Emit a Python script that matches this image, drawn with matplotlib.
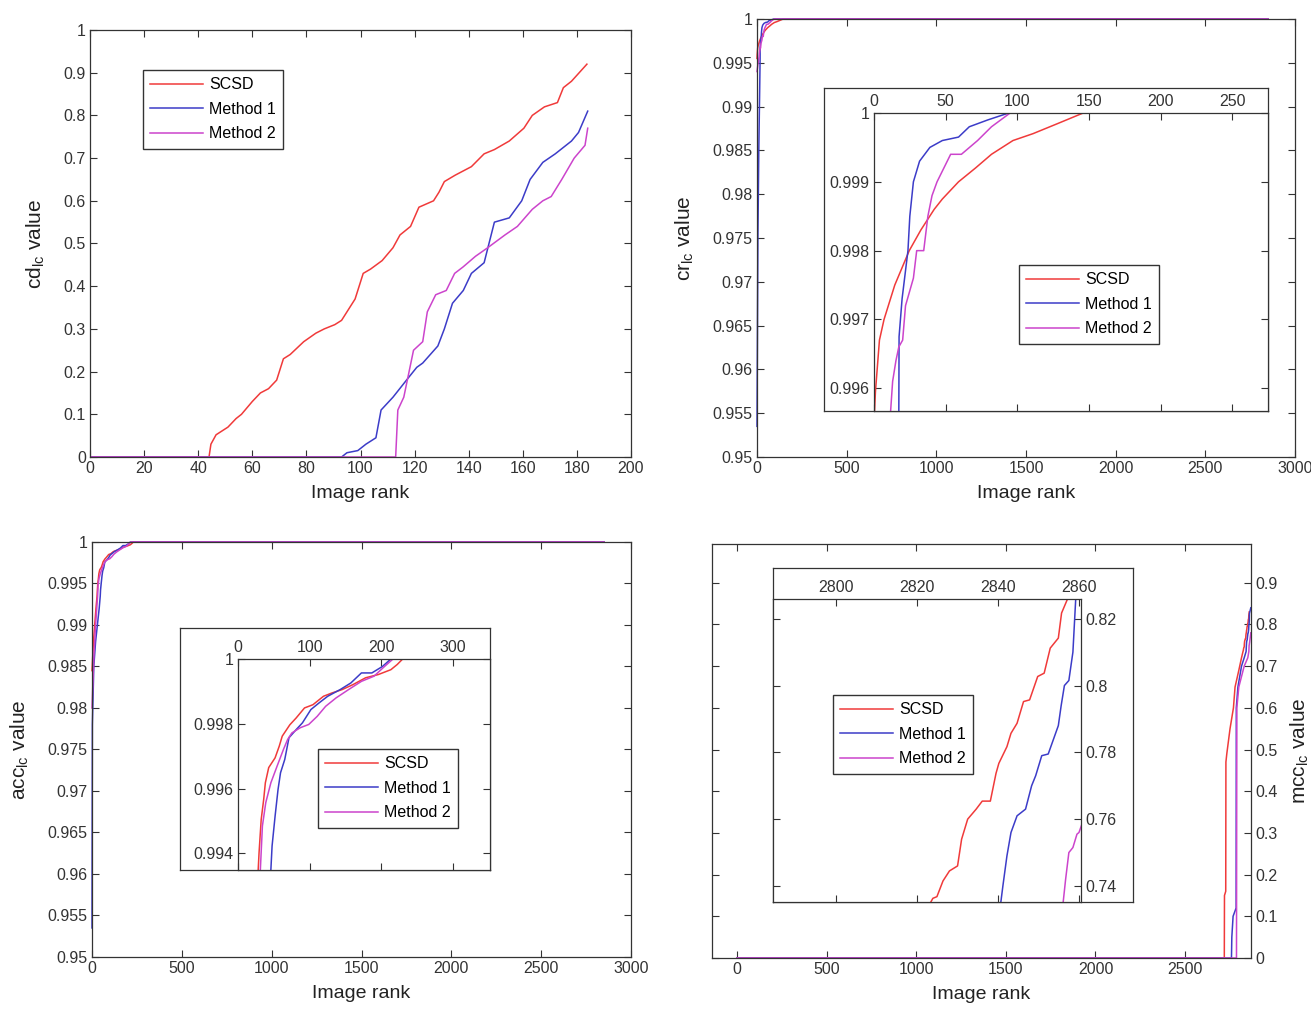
import matplotlib.pyplot as plt
from matplotlib.ticker import MultipleLocator, FuncFormatter

plt.rcParams['font.family'] = ['Liberation Sans', 'DejaVu Sans']
plt.rcParams['mathtext.default'] = 'regular'

W, H = 1311, 1013
names = ["SCSD", "Method 1", "Method 2"]
colors = ["#f03a3a", "#3c3cc8", "#cc44cc"]

# cd_lc (top left)
cd_x = [
    [0, 44, 44.7, 46.6, 51, 54, 56, 60, 63, 66, 69, 71.5, 74, 79, 83.5, 86.6, 90.5, 93, 96, 98, 101,
     103.7, 108, 112, 114.6, 118.5, 121.6, 127, 129, 131, 135, 141, 145.7, 149.5, 155, 160.4, 163.5,
     168, 172.8, 175, 178, 183.7],
    [0, 93, 95, 99, 102, 105.7, 107.6, 112, 117, 120.8, 123, 128.6, 131, 134, 138, 141, 145.7, 149.5,
     155, 159.6, 162.7, 167.4, 172, 178, 180.6, 184],
    [0, 113, 113.8, 116, 119.6, 123, 124.7, 127.8, 131.7, 134.8, 137.9, 142.5, 147, 153.4, 158, 163.5,
     167.4, 170.5, 174.4, 179, 183, 184],
]
cd_y = [
    [0, 0, 0.03, 0.052, 0.07, 0.09, 0.1, 0.13, 0.15, 0.16, 0.18, 0.23, 0.24, 0.27, 0.29, 0.3, 0.31, 0.32,
     0.35, 0.37, 0.43, 0.44, 0.46, 0.49, 0.52, 0.54, 0.585, 0.6, 0.62, 0.645, 0.66, 0.68, 0.71, 0.72,
     0.74, 0.77, 0.8, 0.82, 0.83, 0.865, 0.88, 0.92],
    [0, 0, 0.01, 0.015, 0.03, 0.045, 0.11, 0.14, 0.18, 0.21, 0.22, 0.26, 0.3, 0.36, 0.39, 0.43, 0.455,
     0.55, 0.56, 0.6, 0.65, 0.69, 0.71, 0.74, 0.76, 0.81],
    [0, 0, 0.11, 0.14, 0.25, 0.27, 0.34, 0.38, 0.39, 0.43, 0.445, 0.47, 0.49, 0.52, 0.54, 0.58, 0.6,
     0.61, 0.65, 0.7, 0.73, 0.77],
]

# cr_lc (top right)
cr_x = [
    [0, 1, 3.8, 7, 14.5, 24.6, 32.7, 42, 47.7, 59, 70.8, 82, 97, 111, 128.6, 146, 2850],
    [0, 5, 10, 15, 17.3, 17.5, 19.6, 23.7, 25, 27.5, 31.8, 39, 47.7, 59, 66.5, 79.5, 94, 2850],
    [0, 5, 11.6, 13, 15.3, 17.3, 20, 22, 27.5, 29.8, 34.7, 37.6, 40.5, 44, 53.5, 61, 72.3, 82, 95, 2850],
]
cr_y = [
    [0.9955, 0.99595, 0.9967, 0.997, 0.9975, 0.998, 0.9983, 0.9986, 0.99875, 0.999, 0.9992, 0.9994,
     0.9996, 0.9997, 0.99985, 1, 1],
    [0.9535, 0.975, 0.985, 0.992, 0.9955, 0.99675, 0.9973, 0.998, 0.9985, 0.999, 0.9993, 0.9995,
     0.9996, 0.99965, 0.9998, 0.9999, 1, 1],
    [0.994, 0.9948, 0.99567, 0.9961, 0.9964, 0.9966, 0.9967, 0.9972, 0.9976, 0.998, 0.998, 0.9985,
     0.9988, 0.999, 0.9994, 0.9994, 0.9996, 0.9998, 1, 1],
]

# acc_lc (bottom left)
acc_x = [
    [0, 8, 15, 22, 28.2, 29.4, 32.4, 35.9, 38.2, 42.9, 51.8, 57.6, 61.8, 72.4, 81.2, 92.9, 104.7, 119.4,
     131, 145.9, 160.6, 178.2, 195.9, 213.5, 222.4, 230, 2850],
    [0, 2, 10, 20, 30, 40, 45.9, 47.6, 51.8, 55.9, 59.4, 65.3, 71.2, 81.2, 90, 101.8, 113.5, 125.3, 143,
     157.6, 172.4, 187, 201.8, 213.5, 2850],
    [0, 10, 20, 28, 31.2, 34.1, 38.8, 45.9, 54.7, 63.5, 69.4, 75.3, 87, 98.8, 110.6, 122.4, 137, 154.7,
     172.4, 190, 204.7, 216.5, 2850],
]
acc_y = [
    [0.9845, 0.988, 0.990, 0.992, 0.99349, 0.99402, 0.99505, 0.99567, 0.99618, 0.99665, 0.99695,
     0.99731, 0.99762, 0.99797, 0.99818, 0.99849, 0.99859, 0.99885, 0.99895, 0.99906, 0.99921,
     0.99942, 0.99952, 0.99967, 0.99983, 1, 1],
    [0.9535, 0.978, 0.985, 0.988, 0.99, 0.992, 0.99349, 0.99423, 0.99515, 0.99597, 0.99649, 0.9969,
     0.99757, 0.99782, 0.99803, 0.99844, 0.99865, 0.99885, 0.99906, 0.99926, 0.99957, 0.99957,
     0.99977, 1, 1],
    [0.98, 0.986, 0.99, 0.9925, 0.99349, 0.99485, 0.99557, 0.99618, 0.9967, 0.99721, 0.99752, 0.99772,
     0.99788, 0.99798, 0.99823, 0.99854, 0.9988, 0.99906, 0.99931, 0.99947, 0.99977, 1, 1],
]

# mcc_lc (bottom right)
mcc_x = [
    [0, 2719, 2720, 2727, 2728, 2733, 2751, 2770, 2779, 2800, 2815, 2823.4, 2823.9, 2824.9, 2826.4,
     2828, 2830, 2831, 2832.5, 2834.6, 2836.1, 2838.1, 2839.5, 2840.2, 2842.2, 2843.2, 2844.7, 2846.3,
     2847.8, 2849.8, 2851.4, 2852.9, 2854.9, 2855.7, 2857.2, 2858],
    [0, 2759, 2761, 2768, 2785, 2786, 2795, 2815, 2830, 2840.7, 2841.2, 2842.2, 2843.2, 2844.7, 2846.8,
     2848.3, 2849.3, 2850.8, 2852.4, 2854.9, 2855.6, 2856.4, 2857.5, 2858.5, 2859.2, 2867],
    [0, 2787, 2788, 2789, 2800, 2830, 2850, 2856.1, 2856.7, 2857.5, 2858.5, 2859.5, 2860, 2867],
]
mcc_y = [
    [0, 0, 0.15, 0.16, 0.47, 0.49, 0.55, 0.6, 0.65, 0.69, 0.72, 0.7352, 0.7363, 0.7368, 0.7415, 0.7445,
     0.746, 0.754, 0.76, 0.763, 0.7654, 0.7654, 0.7737, 0.7767, 0.7817, 0.7857, 0.7887, 0.7952, 0.7957,
     0.8027, 0.8037, 0.8112, 0.8142, 0.8217, 0.826, 0.83],
    [0, 0, 0.05, 0.1, 0.12, 0.6, 0.65, 0.7, 0.72, 0.7352, 0.74, 0.749, 0.756, 0.761, 0.763, 0.77, 0.773,
     0.779, 0.7795, 0.788, 0.794, 0.80, 0.8015, 0.81, 0.826, 0.84],
    [0, 0, 0.3, 0.6, 0.65, 0.7, 0.72, 0.7352, 0.742, 0.75, 0.7515, 0.7555, 0.756, 0.78],
]


def box(x0, y0, x1, y1):
    return [x0 / W, 1 - y1 / H, (x1 - x0) / W, (y1 - y0) / H]


fmt = FuncFormatter(lambda v, p: "%g" % round(v, 6))


def style(ax, size=11.5):
    ax.tick_params(direction="in", top=True, right=True, length=5, width=0.8,
                   labelsize=size, colors="#333333", pad=3)
    for s in ax.spines.values():
        s.set_color("#333333")
        s.set_linewidth(0.9)
    ax.xaxis.set_major_formatter(fmt)
    ax.yaxis.set_major_formatter(fmt)


def labels(ax, ylab):
    ax.set_xlabel("Image rank", fontsize=14, color="#222222", labelpad=6)
    ax.set_ylabel(ylab, fontsize=15, color="#222222", labelpad=12)


def draw(ax, xs, ys, clip=True):
    for x, y, c, n in zip(xs, ys, colors, names):
        ax.plot(x, y, color=c, lw=1.1, label=n, clip_on=clip)


def legend(ax, x0, y0):
    ax.legend(loc="upper left", bbox_to_anchor=(x0 / W, 1 - y0 / H), bbox_transform=fig.transFigure,
              borderaxespad=0, fancybox=False, framealpha=1, edgecolor="#333333", fontsize=11.5,
              handlelength=3.3, labelspacing=0.6, borderpad=0.45, handletextpad=0.4)


def frame(x0, y0, x1, y1):
    a = fig.add_axes(box(x0, y0, x1, y1))
    a.set_xticks([])
    a.set_yticks([])
    for s in a.spines.values():
        s.set_color("#333333")
        s.set_linewidth(0.9)
    return a


fig = plt.figure(figsize=(W / 100, H / 100), dpi=100)

# top left
ax1 = fig.add_axes(box(90, 30, 631, 457))
draw(ax1, cd_x, cd_y)
ax1.set_xlim(0, 200)
ax1.set_ylim(0, 1)
ax1.xaxis.set_major_locator(MultipleLocator(20))
ax1.yaxis.set_major_locator(MultipleLocator(0.1))
style(ax1)
labels(ax1, "cd$_{lc}$ value")
legend(ax1, 143, 70)

# top right
ax2 = fig.add_axes(box(757, 19, 1295, 457))
draw(ax2, cr_x, cr_y, clip=False)
ax2.set_xlim(0, 3000)
ax2.set_ylim(0.95, 1)
ax2.xaxis.set_major_locator(MultipleLocator(500))
ax2.yaxis.set_major_locator(MultipleLocator(0.005))
style(ax2)
labels(ax2, "cr$_{lc}$ value")

frame(824, 88, 1268, 411)
in2 = fig.add_axes(box(874, 113, 1268, 411))
draw(in2, cr_x, cr_y)
in2.set_xlim(0, 275)
in2.set_ylim(0.99567, 1)
in2.xaxis.set_major_locator(MultipleLocator(50))
in2.yaxis.set_major_locator(MultipleLocator(0.001))
style(in2)
in2.tick_params(labeltop=True, labelbottom=False)
legend(in2, 1019, 265)

# bottom left
ax3 = fig.add_axes(box(92, 542, 631, 957))
draw(ax3, acc_x, acc_y, clip=False)
ax3.set_xlim(0, 3000)
ax3.set_ylim(0.95, 1)
ax3.xaxis.set_major_locator(MultipleLocator(500))
ax3.yaxis.set_major_locator(MultipleLocator(0.005))
style(ax3)
labels(ax3, "acc$_{lc}$ value")

frame(180, 628, 490, 870)
in3 = fig.add_axes(box(238, 659, 490, 870))
draw(in3, acc_x, acc_y)
in3.set_xlim(0, 352)
in3.set_ylim(0.99349, 1)
in3.xaxis.set_major_locator(MultipleLocator(100))
in3.yaxis.set_major_locator(MultipleLocator(0.002))
style(in3)
in3.tick_params(labeltop=True, labelbottom=False)
legend(in3, 318, 749)

# bottom right
ax4 = fig.add_axes(box(712, 544, 1251, 958))
draw(ax4, mcc_x, mcc_y, clip=False)
ax4.set_xlim(-140, 2868)
ax4.set_ylim(0, 0.993)
ax4.set_xticks([0, 500, 1000, 1500, 2000, 2500])
ax4.set_yticks([0, 0.1, 0.2, 0.3, 0.4, 0.5, 0.6, 0.7, 0.8, 0.9])
style(ax4)
ax4.tick_params(labelleft=False, labelright=True)
ax4.yaxis.set_label_position("right")
labels(ax4, "mcc$_{lc}$ value")
ax4.yaxis.labelpad = 8

frame(773, 568, 1133, 902)
in4 = fig.add_axes(box(773, 599, 1081, 902))
draw(in4, mcc_x, mcc_y)
in4.set_xlim(2784.4, 2860.5)
in4.set_ylim(0.7352, 0.8259)
in4.set_xticks([2800, 2820, 2840, 2860])
in4.set_yticks([0.74, 0.76, 0.78, 0.8, 0.82])
style(in4)
in4.tick_params(labeltop=True, labelbottom=False, labelleft=False, labelright=True)
legend(in4, 833, 695)

fig.savefig("out.png", dpi=100)
